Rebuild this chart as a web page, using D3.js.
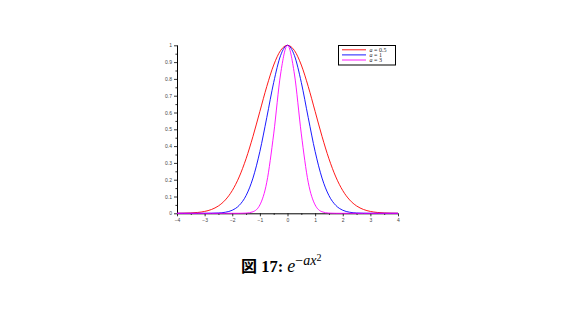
<!DOCTYPE html>
<html><head><meta charset="utf-8">
<script src="https://cdn.jsdelivr.net/npm/d3@7"></script>
<style>body{margin:0;background:#fff}svg{display:block}</style>
</head><body>
<svg id="c" width="577" height="309"></svg>
<script>
const xValues = [-4,-3.75,-3.5,-3.25,-3,-2.75,-2.5,-2.25,-2,-1.75,-1.5,-1.25,-1,-0.75,-0.5,-0.25,0,0.25,0.5,0.75,1,1.25,1.5,1.75,2,2.25,2.5,2.75,3,3.25,3.5,3.75,4];
const seriesA05 = [0.0003,0.0009,0.0022,0.0051,0.0111,0.0228,0.0439,0.0796,0.1353,0.2163,0.3247,0.4578,0.6065,0.7548,0.8825,0.9692,1,0.9692,0.8825,0.7548,0.6065,0.4578,0.3247,0.2163,0.1353,0.0796,0.0439,0.0228,0.0111,0.0051,0.0022,0.0009,0.0003];
const seriesA1 = [0,0,0,0,0.0001,0.0005,0.0019,0.0063,0.0183,0.0468,0.1054,0.2096,0.3679,0.5698,0.7788,0.9394,1,0.9394,0.7788,0.5698,0.3679,0.2096,0.1054,0.0468,0.0183,0.0063,0.0019,0.0005,0.0001,0,0,0,0];
const seriesA3 = [0,0,0,0,0,0,0,0,0,0.0001,0.0012,0.0092,0.0498,0.1850,0.4724,0.8290,1,0.8290,0.4724,0.1850,0.0498,0.0092,0.0012,0.0001,0,0,0,0,0,0,0,0,0];
const seriesNames = ["0.5","1","3"];
const seriesColors = ["#ff0000","#0000ff","#ff00ff"];
const xTicks = [-4,-3,-2,-1,0,1,2,3,4];
const yTicks = [0,0.1,0.2,0.3,0.4,0.5,0.6,0.7,0.8,0.9,1];

const svg = d3.select("#c");
const x = d3.scaleLinear().domain([-4,4]).range([177,398]);
const y = d3.scaleLinear().domain([0,1]).range([213.3,45.3]);

// axes
const yAxis = svg.append("g").attr("transform","translate(177,0)")
  .call(d3.axisLeft(y).tickValues(yTicks).tickFormat(d3.format("~g")).tickSize(3).tickPadding(2));
svg.append("g").attr("transform","translate(177,0)")
  .call(d3.axisLeft(y).tickValues(d3.range(0.05,1,0.1)).tickFormat("").tickSize(1.6))
  .call(g=>g.select(".domain").remove());
const xAxis = svg.append("g").attr("transform","translate(0,213.3)")
  .call(d3.axisBottom(x).tickValues(xTicks).tickFormat(d3.format("d")).tickSize(3).tickPadding(2.5));
svg.append("g").attr("transform","translate(0,213.3)")
  .call(d3.axisBottom(x).tickValues(d3.range(-3.5,4,1)).tickFormat("").tickSize(1.6))
  .call(g=>g.select(".domain").remove());
svg.selectAll(".domain").attr("stroke","#000").attr("stroke-width",1);
svg.selectAll(".tick line").attr("stroke","#000").attr("stroke-width",0.8);
svg.selectAll(".tick text").attr("font-family","Liberation Sans, Arial, sans-serif").attr("font-size",5).attr("fill","#444");
yAxis.select(".domain").attr("d", `M0.5,${y(1)}V${y(0)}`);
xAxis.select(".domain").attr("d", `M${x(-4)},0.5H${x(4)}`);

// curves
const all = [seriesA05, seriesA1, seriesA3];
const line = d3.line().x((d,i)=>x(xValues[i])).y(d=>y(d)).curve(d3.curveMonotoneX);
all.forEach((s,k)=>{
  svg.append("path").datum(s).attr("d",line).attr("fill","none")
    .attr("stroke",seriesColors[k]).attr("stroke-width",0.9);
});

// legend
const lg = svg.append("g");
lg.append("rect").attr("x",338.5).attr("y",45.5).attr("width",57).attr("height",19.5)
  .attr("fill","#fff").attr("stroke","#000").attr("stroke-width",1);
seriesNames.forEach((n,k)=>{
  const yy = 49.8 + k*5.1;
  lg.append("line").attr("x1",342).attr("x2",366).attr("y1",yy).attr("y2",yy)
    .attr("stroke",seriesColors[k]).attr("stroke-width",0.9);
  const t = lg.append("text").attr("x",369.5).attr("y",yy+2)
    .attr("font-family","Liberation Serif, serif").attr("font-size",6).attr("fill","#222");
  t.append("tspan").attr("font-style","italic").text("a");
  t.append("tspan").text(" = " + n);
});

// caption
const cap = svg.append("text").attr("x",241).attr("y",272).attr("font-family","Liberation Serif, serif").attr("fill","#000");
cap.append("tspan").attr("font-family","Noto Sans CJK JP").attr("font-weight","bold").attr("font-size",16).text("図");
cap.append("tspan").attr("font-weight","bold").attr("font-size",16.5).text(" 17: ");
cap.append("tspan").attr("font-style","italic").attr("font-size",18).text("e");
cap.append("tspan").attr("font-size",14).attr("dy",-7).text("−");
cap.append("tspan").attr("font-style","italic").attr("font-size",14).text("ax");
cap.append("tspan").attr("font-size",10).attr("dy",-4).text("2");
</script>
</body></html>
